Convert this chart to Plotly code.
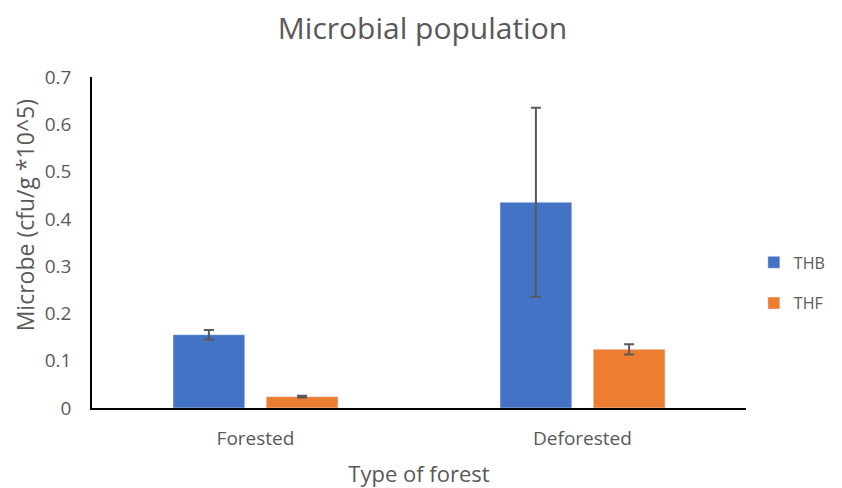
import plotly.graph_objects as go

categories = ["Forested", "Deforested"]
thb = [0.155, 0.435]
thb_err = [0.010, 0.200]
thf = [0.024, 0.124]
thf_err = [0.002, 0.011]

font_family = "Open Sans, Liberation Sans, sans-serif"
gray = "#595959"

fig = go.Figure()
fig.add_trace(go.Bar(
    name="THB", x=categories, y=thb, marker_color="#4472C4",
    error_y=dict(type="data", array=thb_err, color=gray, thickness=2, width=5),
    legendgroup="a",
))
fig.add_trace(go.Bar(
    name="THF", x=categories, y=thf, marker_color="#ED7D31",
    error_y=dict(type="data", array=thf_err, color=gray, thickness=2, width=5),
    legendgroup="b",
))

fig.update_layout(
    width=834, height=480,
    paper_bgcolor="white", plot_bgcolor="white",
    margin=dict(l=84, r=96, t=69, b=80, autoexpand=False),
    barmode="group", bargap=0.43, bargroupgap=0.23,
    font=dict(family=font_family, color=gray, size=18),
    title=dict(text="Microbial population", x=0.497, xanchor="center", y=0.958, yanchor="middle",
               font=dict(size=30, color=gray, family=font_family)),
    xaxis=dict(showline=True, linecolor="black", linewidth=1.5, ticks="",
               automargin=False, ticklabelstandoff=12,
               title=dict(text="Type of forest", font=dict(size=22, color=gray), standoff=19),
               tickfont=dict(size=19, color=gray)),
    yaxis=dict(range=[0, 0.7], dtick=0.1, showgrid=False, zeroline=False,
               showline=True, linecolor="black", linewidth=1.5, ticks="",
               automargin=False, ticklabelstandoff=15,
               tickformat="~g",
               tickfont=dict(size=19, color=gray)),
    legend=dict(x=1.012, y=0.378, xanchor="left", yanchor="middle",
                traceorder="grouped", tracegroupgap=17,
                font=dict(size=16, color=gray)),
    annotations=[dict(text="Microbe (cfu/g *10^5)", textangle=-90, showarrow=False,
                      xref="paper", yref="paper", x=-0.102, y=0.583,
                      xanchor="center", yanchor="middle",
                      font=dict(size=23, color=gray))],
)

fig.write_html("out.html")
